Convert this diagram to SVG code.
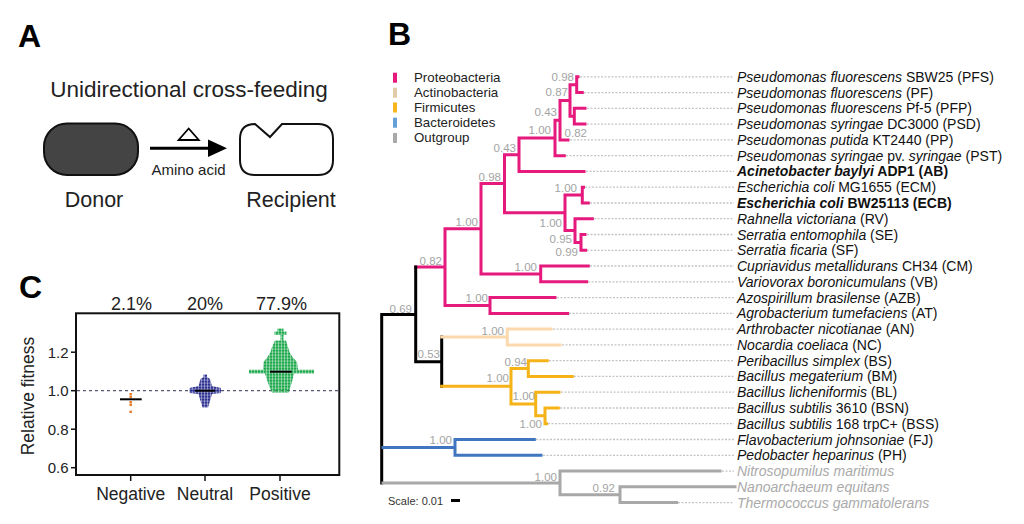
<svg xmlns="http://www.w3.org/2000/svg" width="1024" height="524" viewBox="0 0 1024 524">
<style>
text{font-family:"Liberation Sans",Arial,sans-serif}
.hd{font-size:32px;font-weight:bold;fill:#000}
.sp{font-size:14px;fill:#111}
.out{font-size:14px;fill:#aaa;font-style:italic}
.it{font-style:italic}
.bs{font-size:11.5px;fill:#a3a3a3;text-anchor:end}
.lg{font-size:13.3px;fill:#222}
.br{fill:none;stroke-width:3;stroke-linecap:square}
.pk{stroke:#e6197d}.bk{stroke:#000}.pe{stroke:#fcd8ad}.or{stroke:#f5b318}.bl{stroke:#3f76bf}.gy{stroke:#a8a8a8}
.ld{stroke:#c4c4c4;stroke-width:1.3;stroke-dasharray:2 1.5;fill:none}
.ax{font-size:15px;fill:#222;text-anchor:end}
.cat{font-size:17.5px;fill:#222;text-anchor:middle}
.pc{font-size:18px;fill:#222;text-anchor:middle}
</style>
<defs>
<pattern id="dG" width="3" height="3" x="0" y="1.6" patternUnits="userSpaceOnUse"><rect width="2.6" height="2.6" fill="#1ea84c"/></pattern>
<pattern id="dN" width="3" height="3" x="1" y="2.6" patternUnits="userSpaceOnUse"><rect width="2.6" height="2.6" fill="#2e3192"/></pattern>
</defs>
<rect width="1024" height="524" fill="#fff"/>

<!-- Panel A -->
<g id="panelA">
<text class="hd" x="18" y="47">A</text>
<text x="189" y="96.5" font-size="22.5" fill="#222" text-anchor="middle">Unidirectional cross-feeding</text>
<g id="donor">
<rect x="44" y="123.5" width="94" height="51.5" rx="23" ry="23" fill="#444" stroke="#111" stroke-width="2"/>
<text x="94" y="207" font-size="21.5" fill="#222" text-anchor="middle">Donor</text>
</g>
<g id="recipient">
<path d="M255,124 L270,137 L282,124 H318 Q333,124 333,139 V160 Q333,175 318,175 H255 Q240,175 240,160 V139 Q240,124 255,124Z" fill="#fff" stroke="#111" stroke-width="2"/>
<text x="291" y="207" font-size="21.5" fill="#222" text-anchor="middle">Recipient</text>
</g>
<g id="transfer">
<line x1="150" y1="148.3" x2="210" y2="148.3" stroke="#000" stroke-width="3"/>
<polygon points="208,139.5 227,148.3 208,157" fill="#000"/>
<polygon points="188.7,128.5 198.8,140 178.6,140" fill="#fff" stroke="#000" stroke-width="1.8"/>
<text x="188.5" y="174.5" font-size="15" fill="#222" text-anchor="middle">Amino acid</text>
</g>
</g>

<!-- Panel C -->
<g id="panelC">
<text class="hd" x="19" y="298">C</text>
<text class="pc" x="131.5" y="310">2.1%</text>
<text class="pc" x="205" y="310">20%</text>
<text class="pc" x="281.5" y="310">77.9%</text>
<rect x="76" y="313.3" width="263.3" height="161.7" fill="none" stroke="#111" stroke-width="2"/>
<g stroke="#111" stroke-width="1.5">
<line x1="71" y1="352.2" x2="76" y2="352.2"/>
<line x1="71" y1="390.7" x2="76" y2="390.7"/>
<line x1="71" y1="429.2" x2="76" y2="429.2"/>
<line x1="71" y1="467.7" x2="76" y2="467.7"/>
<line x1="130.7" y1="475" x2="130.7" y2="481"/>
<line x1="205" y1="475" x2="205" y2="481"/>
<line x1="280" y1="475" x2="280" y2="481"/>
</g>
<text class="ax" x="68.5" y="357.5">1.2</text>
<text class="ax" x="68.5" y="396">1.0</text>
<text class="ax" x="68.5" y="434.5">0.8</text>
<text class="ax" x="68.5" y="473">0.6</text>
<text x="34" y="396" font-size="17.5" fill="#222" text-anchor="middle" transform="rotate(-90 34 396)">Relative fitness</text>
<text class="cat" x="130.7" y="500">Negative</text>
<text class="cat" x="205" y="500">Neutral</text>
<text class="cat" x="280" y="500">Positive</text>
<line x1="77" y1="390.7" x2="338" y2="390.7" stroke="#555a6e" stroke-width="1.2" stroke-dasharray="3 3"/>
<g id="negative" fill="#e87722">
<rect x="129.5" y="393" width="2.4" height="2.4"/>
<rect x="129.5" y="395.8" width="2.4" height="2.4"/>
<rect x="129.5" y="401" width="2.4" height="2.4"/>
<rect x="129.5" y="403.7" width="2.4" height="2.4"/>
<rect x="129.5" y="410.6" width="2.4" height="2.4"/>
</g>
<polygon id="neutral" fill="url(#dN)" points="203.5,374.5 207,374.5 207,377 210,379 212,386 221,388 221,393 212,394 210,401 208,407.5 202.5,407.5 200.5,401 198.5,394 189.5,393 189.5,388 198.5,386 200.5,379 203.5,377"/>
<polygon id="positive" fill="url(#dG)" points="277.5,328.5 283.5,328.5 283.5,331.5 286.5,331.5 286.5,335 283.5,335 283.5,340.5 286,340.5 288,347 289.5,352 292.5,357 297,362 298,369.8 314,369.8 314,373.6 294,373.6 292.5,380 290.5,387 288.5,392.5 272,392.5 269.5,387 267,380 265,373.6 249,373.6 249,369.8 263,369.8 263.5,362 267.5,357 270.5,352 272,347 275,340.5 280.5,340.5 280.5,335 274.5,335 274.5,331.5 277.5,331.5"/>
<g stroke="#000" stroke-width="2">
<line x1="120" y1="399.3" x2="141.7" y2="399.3"/>
<line x1="195" y1="390.7" x2="215" y2="390.7"/>
<line x1="270" y1="371.7" x2="291.7" y2="371.7"/>
</g>
</g>

<!-- Panel B -->
<g id="panelB">
<text class="hd" x="388" y="45">B</text>
<g id="legend">
<rect x="393" y="72.7" width="4" height="10" fill="#e6177d"/><text class="lg" x="414" y="82">Proteobacteria</text>
<rect x="393" y="87.7" width="4" height="10" fill="#e2cba9"/><text class="lg" x="414" y="97">Actinobacteria</text>
<rect x="393" y="102.5" width="4" height="10" fill="#f7b51e"/><text class="lg" x="414" y="112">Firmicutes</text>
<rect x="393" y="117.7" width="4" height="10" fill="#63a0d8"/><text class="lg" x="414" y="127">Bacteroidetes</text>
<rect x="393" y="133" width="4" height="10" fill="#a9a9a9"/><text class="lg" x="414" y="142">Outgroup</text>
</g>

<g id="connectors">
<path class="br pk" d="M415.7,267.1H445 M445,228.7V305.5 M445,228.7H481 M481,183.5V273.9 M445,305.5H490 M490,297.6V313.4 M490,297.6H555 M490,313.4H567.7 M481,183.5H504.5 M504.5,154.7V212.8 M481,273.9H540.7 M540.7,266V281.8 M540.7,266H588.3 M540.7,281.8H586.7 M504.5,154.7H519 M519,137.9V171.4 M519,171.4H584 M519,137.9H555 M555,120.2V155.7 M555,155.7H564.3 M555,120.2H560 M560,100.45V139.9 M560,139.9H568 M560,100.45H570 M570,84.7V116.2 M570,84.7H576.7 M576.7,76.8V92.6 M576.7,76.8H578 M576.7,92.6H582.3 M570,116.2H574.3 M574.3,108.3V124.1 M574.3,108.3H585 M574.3,124.1H585 M504.5,212.8H565 M565,195.1V230.55 M565,195.1H582.3 M582.3,187.2V203 M582.3,187.2H583.5 M582.3,203H588.3 M565,230.55H575 M575,218.7V242.4 M575,218.7H592.3 M575,242.4H581 M581,234.5V250.3 M581,234.5H585 M581,250.3H585.7"/>
<path class="br bk" d="M381.7,314.4V482.9 M381.7,314.4H415.7 M415.7,267.1V361.65 M415.7,361.65H441.7 M441.7,337V386.3"/>
<path class="br pe" d="M441.7,337H507.3 M507.3,329.1V344.9 M507.3,329.1H551 M507.3,344.9H560"/>
<path class="br or" d="M441.7,386.3H511 M511,368.55V404 M511,368.55H528.3 M528.3,360.7V376.4 M528.3,360.7H547.3 M528.3,376.4H572.3 M511,404H535.7 M535.7,392.2V415.85 M535.7,392.2H559 M535.7,415.85H545 M545,408V423.7 M545,408H558.3 M545,423.7H546.5"/>
<path class="br bl" d="M383,447.4H455 M455,439.5V455.3 M455,439.5H534.3 M455,455.3H541"/>
<path class="br gy" d="M383,482.9H560 M560,471.1V494.7 M560,471.1H720 M560,494.7H620 M620,486.8V502.6 M620,486.8H735 M620,502.6H676.7"/>
<path class="ld" d="M580,76.8H734 M584,92.6H734 M587,108.3H734 M587,124.1H734 M570,139.9H734 M566,155.7H734 M586,171.4H734 M585,187.2H734 M590,203H734 M594,218.7H734 M587,234.5H734 M587,250.3H734 M590,266H734 M588,281.8H734 M557,297.6H734 M569,313.4H734 M553,329.1H734 M562,344.9H734 M549,360.7H734 M574,376.4H734 M561,392.2H734 M560,408H734 M548,423.7H734 M536,439.5H734 M543,455.3H734 M722,471.1H734 M678,502.6H734"/>
</g>

<g id="support">
<text class="bs" x="574" y="80.5">0.98</text>
<text class="bs" x="568" y="96">0.87</text>
<text class="bs" x="557" y="116">0.43</text>
<text class="bs" x="551" y="134">1.00</text>
<text class="bs" x="587" y="136.5">0.82</text>
<text class="bs" x="516" y="151.5">0.43</text>
<text class="bs" x="501" y="180.5">0.98</text>
<text class="bs" x="577" y="192">1.00</text>
<text class="bs" x="562" y="226.5">1.00</text>
<text class="bs" x="572" y="243">0.95</text>
<text class="bs" x="578" y="256">0.99</text>
<text class="bs" x="478" y="226">1.00</text>
<text class="bs" x="537" y="271">1.00</text>
<text class="bs" x="442" y="265">0.82</text>
<text class="bs" x="488" y="302">1.00</text>
<text class="bs" x="412" y="313">0.69</text>
<text class="bs" x="504" y="335">1.00</text>
<text class="bs" x="440" y="358">0.53</text>
<text class="bs" x="527" y="366">0.94</text>
<text class="bs" x="509" y="382">1.00</text>
<text class="bs" x="535" y="400">1.00</text>
<text class="bs" x="542" y="428">1.00</text>
<text class="bs" x="452" y="444">1.00</text>
<text class="bs" x="557" y="481">1.00</text>
<text class="bs" x="615" y="492">0.92</text>
</g>

<g id="leaves">
<g id="PFS"><text class="sp" x="737" y="81.8"><tspan class="it">Pseudomonas fluorescens</tspan> SBW25 (PFS)</text></g>
<g id="PF"><text class="sp" x="737" y="97.6"><tspan class="it">Pseudomonas fluorescens</tspan> (PF)</text></g>
<g id="PFP"><text class="sp" x="737" y="113.3"><tspan class="it">Pseudomonas fluorescens</tspan> Pf-5 (PFP)</text></g>
<g id="PSD"><text class="sp" x="737" y="129.1"><tspan class="it">Pseudomonas syringae</tspan> DC3000 (PSD)</text></g>
<g id="PP"><text class="sp" x="737" y="144.9"><tspan class="it">Pseudomonas putida</tspan> KT2440 (PP)</text></g>
<g id="PST"><text class="sp" x="737" y="160.7"><tspan class="it">Pseudomonas syringae</tspan> pv. <tspan class="it">syringae</tspan> (PST)</text></g>
<g id="AB"><text class="sp" x="737" y="176.4" font-weight="bold"><tspan class="it">Acinetobacter baylyi</tspan> ADP1 (AB)</text></g>
<g id="ECM"><text class="sp" x="737" y="192.2"><tspan class="it">Escherichia coli</tspan> MG1655 (ECM)</text></g>
<g id="ECB"><text class="sp" x="737" y="208" font-weight="bold"><tspan class="it">Escherichia coli</tspan> BW25113 (ECB)</text></g>
<g id="RV"><text class="sp" x="737" y="223.7"><tspan class="it">Rahnella victoriana</tspan> (RV)</text></g>
<g id="SE"><text class="sp" x="737" y="239.5"><tspan class="it">Serratia entomophila</tspan> (SE)</text></g>
<g id="SF"><text class="sp" x="737" y="255.3"><tspan class="it">Serratia ficaria</tspan> (SF)</text></g>
<g id="CM"><text class="sp" x="737" y="271"><tspan class="it">Cupriavidus metallidurans</tspan> CH34 (CM)</text></g>
<g id="VB"><text class="sp" x="737" y="286.8"><tspan class="it">Variovorax boronicumulans</tspan> (VB)</text></g>
<g id="AZB"><text class="sp" x="737" y="302.6"><tspan class="it">Azospirillum brasilense</tspan> (AZB)</text></g>
<g id="AT"><text class="sp" x="737" y="318.4"><tspan class="it">Agrobacterium tumefaciens</tspan> (AT)</text></g>
<g id="AN"><text class="sp" x="737" y="334.1"><tspan class="it">Arthrobacter nicotianae</tspan> (AN)</text></g>
<g id="NC"><text class="sp" x="737" y="349.9"><tspan class="it">Nocardia coeliaca</tspan> (NC)</text></g>
<g id="BS"><text class="sp" x="737" y="365.7"><tspan class="it">Peribacillus simplex</tspan> (BS)</text></g>
<g id="BM"><text class="sp" x="737" y="381.4"><tspan class="it">Bacillus megaterium</tspan> (BM)</text></g>
<g id="BL"><text class="sp" x="737" y="397.2"><tspan class="it">Bacillus licheniformis</tspan> (BL)</text></g>
<g id="BSN"><text class="sp" x="737" y="413"><tspan class="it">Bacillus subtilis</tspan> 3610 (BSN)</text></g>
<g id="BSS"><text class="sp" x="737" y="428.7"><tspan class="it">Bacillus subtilis</tspan> 168 trpC+ (BSS)</text></g>
<g id="FJ"><text class="sp" x="737" y="444.5"><tspan class="it">Flavobacterium johnsoniae</tspan> (FJ)</text></g>
<g id="PH"><text class="sp" x="737" y="460.3"><tspan class="it">Pedobacter heparinus</tspan> (PH)</text></g>
<g id="NM"><text class="out" x="737" y="476.1">Nitrosopumilus maritimus</text></g>
<g id="NE"><text class="out" x="737" y="491.8">Nanoarchaeum equitans</text></g>
<g id="TG"><text class="out" x="737" y="507.6">Thermococcus gammatolerans</text></g>
</g>

<g id="scale">
<text x="388" y="505" font-size="11" fill="#333">Scale: 0.01</text>
<line x1="451" y1="500.5" x2="460" y2="500.5" stroke="#000" stroke-width="3"/>
</g>
</g>
</svg>
